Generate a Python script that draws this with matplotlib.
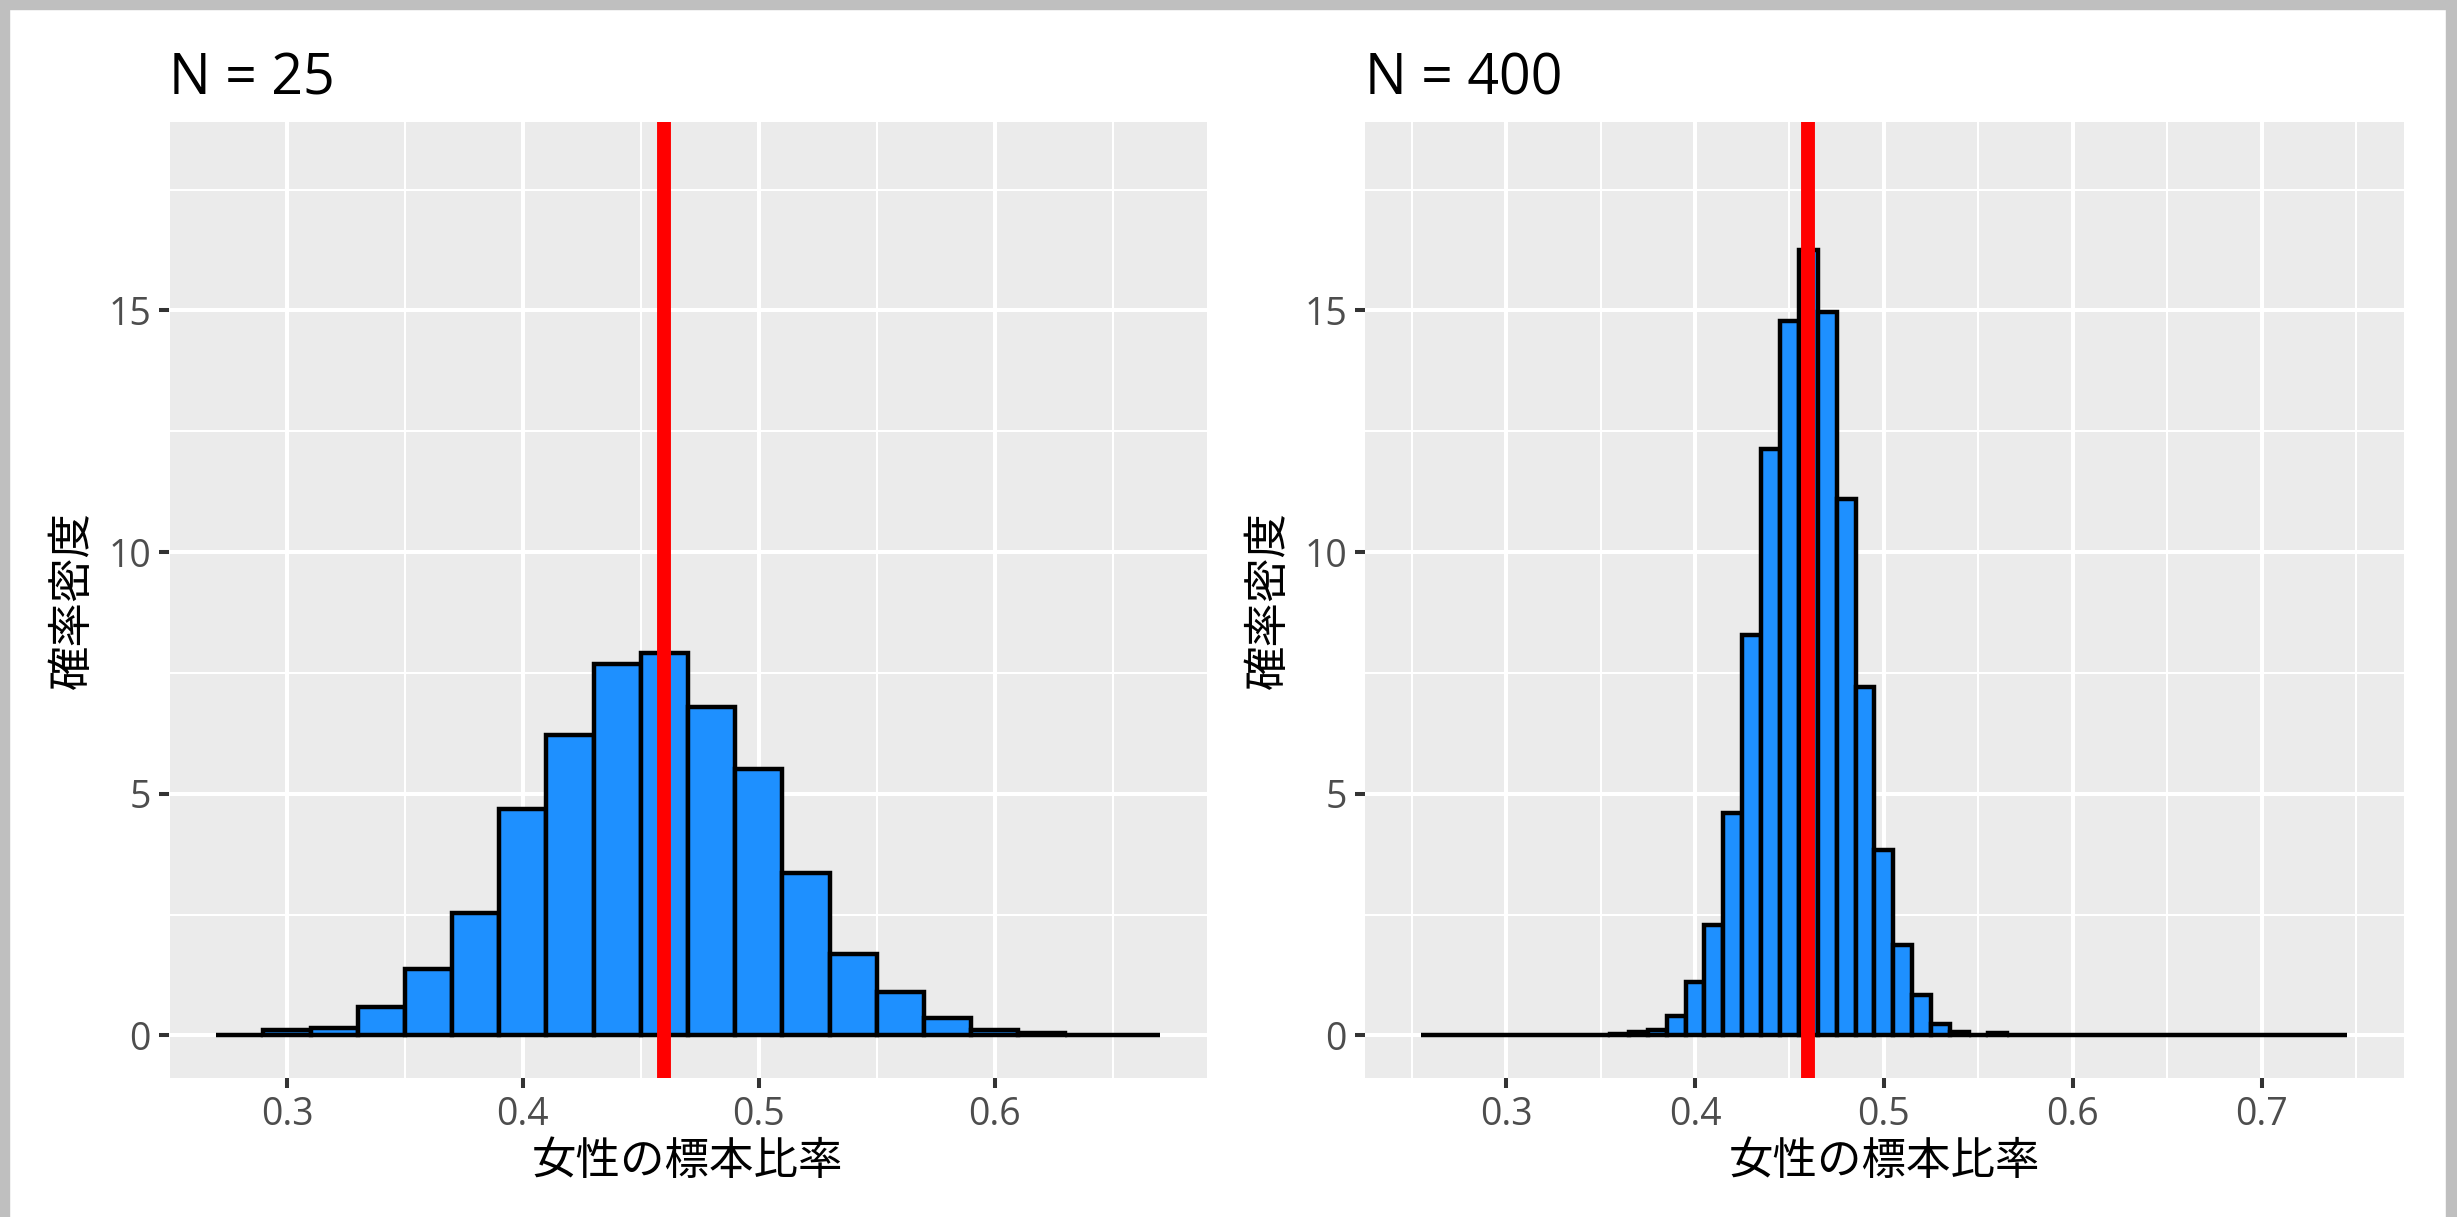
import numpy as np
import matplotlib
matplotlib.use("Agg")
import matplotlib.pyplot as plt
from matplotlib.patches import Rectangle

plt.rcParams['font.family'] = ['Open Sans', 'Noto Sans CJK JP', 'DejaVu Sans']

# 標本比率の分布 (密度) - 図から読み取った値
p_true = 0.46

# N = 25 : 幅 0.02 のビン
bins_25 = np.round(np.arange(0.28, 0.67, 0.02), 2)
dens_25 = [0.02, 0.12, 0.16, 0.59, 1.38, 2.53, 4.69, 6.22, 7.69, 7.91,
           6.79, 5.52, 3.36, 1.68, 0.90, 0.36, 0.12, 0.05, 0.01, 0.02]

# N = 400 : 幅 0.01 のビン
bins_400 = np.round(np.arange(0.26, 0.745, 0.01), 2)
dens_400 = [0, 0, 0, 0, 0, 0, 0, 0, 0, 0.01,
            0.03, 0.07, 0.12, 0.40, 1.10, 2.29, 4.60, 8.28, 12.14, 14.78,
            16.25, 14.96, 11.10, 7.21, 3.83, 1.87, 0.84, 0.24, 0.08, 0.01,
            0.05, 0, 0, 0, 0, 0, 0, 0, 0, 0,
            0, 0, 0, 0, 0, 0, 0, 0, 0]

panels = [
    ("N = 25", bins_25, dens_25, 0.02, (0.25, 0.69),
     [0.3, 0.4, 0.5, 0.6], np.arange(0.25, 0.70, 0.05)),
    ("N = 400", bins_400, dens_400, 0.01, (0.2253, 0.7753),
     [0.3, 0.4, 0.5, 0.6, 0.7], np.arange(0.25, 0.80, 0.05)),
]

W, H = 2457, 1217
fig = plt.figure(figsize=(W / 100, H / 100), dpi=100)
fig.patch.set_facecolor('white')

# 枠 (スクリーンショットの灰色の縁)
gray = '#BFBFBF'
fig.patches.append(Rectangle((0, 1 - 9 / H), 1, 9 / H, transform=fig.transFigure,
                             color=gray, zorder=0))
fig.patches.append(Rectangle((0, 0), 9 / W, 1, transform=fig.transFigure,
                             color=gray, zorder=0))
fig.patches.append(Rectangle((2446 / W, 0), 11 / W, 1, transform=fig.transFigure,
                             color=gray, zorder=0))

lefts = [169, 1365]
rights = [1207, 2404]
top_px, bot_px = 122, 1078

for (title, centers, dens, bw, xlim, xt, xminor), l, r in zip(panels, lefts, rights):
    ax = fig.add_axes([l / W, (H - bot_px) / H, (r - l) / W, (bot_px - top_px) / H])
    ax.set_facecolor('#EBEBEB')
    for s in ax.spines.values():
        s.set_visible(False)

    ax.bar(centers, dens, width=bw, color='#1E90FF', edgecolor='black',
           linewidth=3.2, zorder=2)
    ax.axvline(p_true, color='#FF0000', linewidth=10, zorder=3)

    ax.set_xlim(*xlim)
    ax.set_ylim(-0.88, 18.9)
    ax.set_xticks(xt)
    ax.set_xticklabels([f"{v:.1f}" for v in xt])
    ax.set_xticks([v for v in xminor if all(abs(v - t) > 1e-6 for t in xt)], minor=True)
    ax.set_yticks([0, 5, 10, 15])
    ax.set_yticks([2.5, 7.5, 12.5, 17.5], minor=True)

    ax.grid(True, which='major', color='white', linewidth=2.9, zorder=0)
    ax.grid(True, which='minor', color='white', linewidth=1.45, zorder=0)
    ax.set_axisbelow(True)

    ax.tick_params(which='major', length=7, width=2.9, color='#333333',
                   labelsize=27, labelcolor='#4D4D4D', pad=6)
    ax.tick_params(which='minor', length=0)

    ax.set_xlabel('女性の標本比率', fontsize=32, labelpad=5)
    ax.set_ylabel('確率密度', fontsize=32, labelpad=9)
    ax.set_title(title, loc='left', fontsize=40, pad=20)

fig.savefig('out.png', dpi=100)
